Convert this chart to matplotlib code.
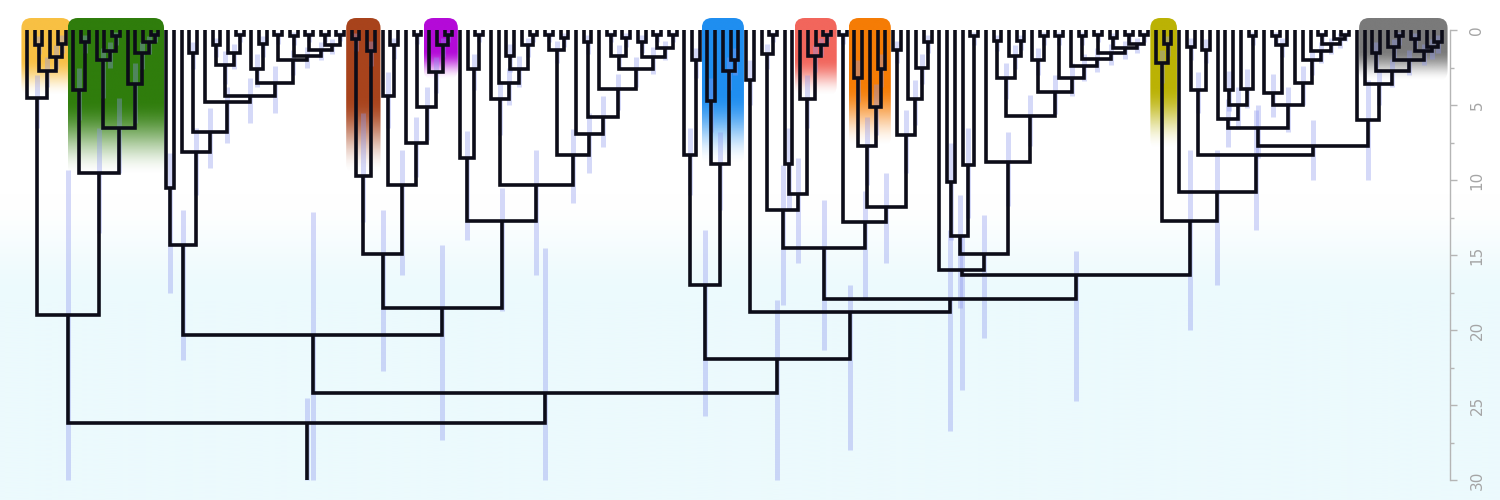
import re
import numpy as np
import matplotlib
matplotlib.use('Agg')
import matplotlib.pyplot as plt
from matplotlib.patches import FancyBboxPatch
from matplotlib.collections import LineCollection
from matplotlib.ticker import MultipleLocator

# ---------------- data: tree topology, node heights and node-height bars ----------------
# syntax: leaf = t ; internal = (left,right)height[bar_low,bar_high]{optional clade tag}
Y_CLADE = "(t,((t,t)1.0[0.4,1.6],(t,(t,t)0.9[0.3,1.5])1.8[1.0,2.6])2.7[1.8,3.8])4.5[3.0,6.5]{yellow}"
G_CLADE = ("((t,(t,t)0.8[0.3,1.5])4.0[2.5,6.0],((t,(t,(t,t)0.4[0.1,1.0])1.4[0.8,2.5])2.0[1.2,4.5],"
           "(t,(t,(t,(t,t)0.3[0.1,0.8])0.8[0.4,1.6])1.5[0.8,2.6])3.6[2.2,6.2])6.5[4.5,9.5])9.5[6.5,13.5]{green}")
L_NODE = f"({Y_CLADE},{G_CLADE})19.0[9.3,30]"

A1_PAIR = "(t,t)10.5[8.2,17.5]"
A1_N235 = "((t,t)1.0[0.5,1.8],(t,(t,t)0.3[0.1,0.8])1.5[0.9,2.6])2.3[1.4,3.6]"
A1_LADDER = ("((t,(t,t)0.9[0.4,1.8])2.6[1.6,3.8],((t,t)0.3[0.1,0.9],((t,t)0.4[0.1,1.0],((t,t)0.3[0.1,0.8],"
             "((t,t)0.3[0.1,0.8],(t,t)0.3[0.1,0.7])1.0[0.6,1.6])1.3[0.8,2.0])1.7[1.1,2.5])2.0[1.3,3.0])3.5[2.4,5.5]")
A1_N200 = f"(t,((t,t)1.5[0.8,2.6],(t,({A1_N235},{A1_LADDER})4.4[3.2,6.2])4.8[3.8,7.5])6.8[5.2,9.2])8.1[6.5,11.0]"
A1_NODE = f"({A1_PAIR},{A1_N200})14.3[12.0,22.0]"

BROWN = "((t,t)0.6[0.2,1.4],(t,t)1.4[0.7,2.4])9.7[5.5,12.8]{brown}"
PURPLE = "(t,(t,(t,t)0.3[0.1,0.8])1.0[0.5,1.8])2.8[1.8,4.2]{purple}"
A2_N402 = f"((t,(t,t)1.0[0.5,1.9])4.4[2.8,6.5],(t,((t,t)0.3[0.1,0.9],{PURPLE})5.1[3.8,7.3])7.5[5.8,9.8])10.3[8.0,16.3]"
A2_N463 = "(t,(t,(t,t)0.3[0.1,0.8])2.6[1.6,4.0])8.5[6.7,14.0]"
A2_N497B = "(t,(t,((t,t)1.7[0.9,2.8],(t,(t,t)0.3[0.1,0.8])1.0[0.5,1.8])2.6[1.7,3.8])3.5[2.5,5.0])4.6[3.4,7.0]"
A2_N540 = "((t,t)0.3[0.1,0.8],(t,t)0.5[0.2,1.1])1.3[0.7,2.2]"
A2_N578 = ("(t,((t,t)0.8[0.3,1.6],(t,(((t,t)0.3[0.1,0.8],(t,t)0.5[0.2,1.1])1.7[1.0,2.6],((t,t)0.8[0.3,1.5],"
           "((t,t)0.3[0.1,0.8],(t,t)0.3[0.1,0.8])1.2[0.7,2.0])1.8[1.1,2.9])2.6[1.8,3.8])3.9[2.9,5.3])5.8[4.4,7.8])6.9[5.5,9.5]")
A2_NODE = (f"(({BROWN},{A2_N402})14.9[12.0,22.7],({A2_N463},({A2_N497B},({A2_N540},{A2_N578})8.3[6.6,11.5])"
           f"10.3[8.0,16.3])12.7[10.5,18.7])18.5[14.3,27.3]")
A_NODE = f"({A1_NODE},{A2_NODE})20.3[12.1,30]"

B_N690 = "(t,(t,t)2.0[1.2,3.2])8.3[6.5,11.0]"
BLUE = "((t,t)4.7[3.2,6.8],(t,(t,t)2.0[1.2,3.0])2.7[1.8,4.0])8.9[6.8,12.0]{blue}"
RED = "(t,(t,(t,(t,t)0.3[0.1,0.8])1.0[0.5,1.7])1.7[1.0,2.8])4.6[3.0,6.5]{red}"
ORANGE = "((t,t)3.2[2.0,4.8],(t,(t,t)2.6[1.6,3.8])5.1[3.6,7.0])7.7[5.8,10.3]{orange}"
B_N782 = f"((t,(t,t)0.3[0.1,0.8])1.6[0.9,2.6],((t,t)8.9[6.5,12.0],{RED})10.9[8.5,15.5])12.0[9.0,18.3]"
B_N902 = "((t,t)1.3[0.7,2.2],(t,(t,(t,t)0.8[0.3,1.5])2.5[1.6,3.6])4.6[3.3,6.3])7.0[5.3,9.5]"
B_N862 = f"((t,t)0.3[0.1,0.9],({ORANGE},{B_N902})11.8[9.5,15.5])12.8[10.7,18.0]"
B_N822 = f"({B_N782},{B_N862})14.5[11.3,21.3]"
B_N958B = "((t,t)10.1[7.5,14.0],(t,(t,t)0.4[0.1,1.0])9.0[6.5,12.5])13.7[11.0,18.5]"
B_N1007 = "((t,t)0.7[0.3,1.4],(t,(t,t)0.7[0.3,1.3])1.7[1.0,2.6])3.2[2.2,4.6]"
B_LADDER = ("((t,t)0.4[0.1,1.0],((t,t)0.3[0.1,0.8],((t,t)0.5[0.2,1.1],((t,t)0.3[0.1,0.8],(t,t)0.3[0.1,0.8])"
            "0.9[0.5,1.5])1.2[0.7,1.9])1.5[0.9,2.3])1.9[1.2,2.8]")
B_N1055 = f"((t,(t,t)0.4[0.1,1.0])2.0[1.2,3.0],((t,t)0.4[0.1,1.0],(t,{B_LADDER})2.4[1.6,3.4])3.2[2.2,4.4])4.1[3.0,5.6]"
B_N958 = f"(t,({B_N958B},(t,({B_N1007},{B_N1055})5.7[4.3,7.7])8.8[6.8,11.7])14.9[12.3,20.5])16.0[13.7,24.0]"
OLIVE = "(t,(t,t)0.9[0.4,1.7])2.2[1.3,3.5]{olive}"
B_N1195 = "((t,t)1.1[0.5,2.0],(t,t)1.3[0.6,2.2])4.0[2.8,5.5]"
B_N1227 = "(t,((t,t)4.0[2.7,5.4],(t,(t,t)0.4[0.1,1.0])3.9[2.6,5.2])5.0[3.8,6.6])5.9[4.6,7.8]"
B_N1280 = ("((t,((t,t)0.4[0.1,1.0],t)1.0[0.5,1.8])4.2[2.9,5.8],(t,(t,(t,((t,t)0.3[0.1,0.8],(t,(t,t)0.3[0.1,0.7])"
           "0.6[0.2,1.2])0.9[0.5,1.6])1.4[0.8,2.2])2.0[1.3,3.0])3.5[2.4,5.0])5.0[3.8,6.8]")
GREY = ("(t,((t,t)1.5[0.8,2.5],((t,(t,t)0.4[0.1,1.0])1.1[0.6,1.9],((t,t)0.6[0.2,1.2],(t,(t,t)0.8[0.3,1.5])"
        "1.1[0.6,1.9])1.4[0.9,2.3])2.0[1.3,3.0])2.7[1.9,3.8])3.6[2.6,5.0]{grey}")
B_N1188 = (f"({OLIVE},(t,({B_N1195},(({B_N1227},{B_N1280})6.5[5.0,8.5],(t,{GREY})6.0[3.3,10.0])7.7[6.0,10.0])"
           f"8.3[5.3,13.3])10.8[8.0,17.0])12.7[8.0,20.0]")
B_NODE = (f"(({B_N690},{BLUE})17.0[13.3,25.7],((t,t)3.3[2.0,5.0],({B_N822},({B_N958},{B_N1188})16.3[14.7,24.7])"
          f"17.9[13.3,26.7])18.8[17.0,28.0])21.9[18.0,30]")
R_NODE = f"({A_NODE},{B_NODE})24.2[14.5,30]"
TREE = f"({L_NODE},{R_NODE})26.2[24.5,30]"
ROOT_STEM_END = 30

CLADE_TAGS = ['yellow', 'green', 'brown', 'purple', 'blue', 'red', 'orange', 'olive', 'grey']
CLADE_COLORS = ['#f8c043', '#2f7d0c', '#a8431c', '#b40ad8', '#1f8ef0', '#f2665c', '#f57c05', '#bbb204', '#7a7a7a']
CLADE_BOTTOMS = [4.4, 9.7, 9.6, 3.3, 9.0, 4.4, 7.8, 8.0, 3.4]

AXIS_TICKS_MAJOR = 5
AXIS_TICKS_MINOR = 2.5
AXIS_RANGE = (0, 30)

# ---------------- parse ----------------
NODE_RE = re.compile(r'\)(?P<h>[0-9.]+)\[(?P<lo>[0-9.]+),(?P<hi>[0-9.]+)\](?:\{(?P<tag>\w+)\})?')


def parse(s, i=0):
    if s[i] == 't':
        return {'leaf': True, 'h': 0.0}, i + 1
    assert s[i] == '(', (s[i:i + 20], i)
    left, i = parse(s, i + 1)
    assert s[i] == ',', (s[i:i + 20], i)
    right, i = parse(s, i + 1)
    m = NODE_RE.match(s, i)
    assert m, s[i:i + 30]
    node = {'leaf': False, 'kids': [left, right], 'h': float(m['h']),
            'lo': float(m['lo']), 'hi': float(m['hi']), 'tag': m['tag']}
    return node, m.end()


root, _ = parse(TREE)
leaves = []


def collect(n):
    if n['leaf']:
        n['idx'] = len(leaves)
        leaves.append(n)
    else:
        for k in n['kids']:
            collect(k)


collect(root)
X_FIRST, X_LAST = 27.0, 1442.0
dx = (X_LAST - X_FIRST) / (len(leaves) - 1)


def setx(n):
    if n['leaf']:
        n['x'] = X_FIRST + n['idx'] * dx
        n['xmin'] = n['xmax'] = n['x']
    else:
        for k in n['kids']:
            setx(k)
        a, b = n['kids']
        n['x'] = (a['x'] + b['x']) / 2
        n['xmin'] = min(a['xmin'], b['xmin'])
        n['xmax'] = max(a['xmax'], b['xmax'])


setx(root)

paths, bars, clades = [], [], {}


def walk(n):
    if n['leaf']:
        return
    a, b = n['kids']
    paths.append([(a['x'], a['h']), (a['x'], n['h']), (b['x'], n['h']), (b['x'], b['h'])])
    bars.append([(n['x'], n['lo']), (n['x'], n['hi'])])
    if n['tag']:
        clades[n['tag']] = (n['xmin'], n['xmax'])
    walk(a)
    walk(b)


walk(root)
paths.append([(root['x'], root['h']), (root['x'], ROOT_STEM_END)])

# ---------------- figure ----------------
fig = plt.figure(figsize=(15, 5), dpi=100)
ax = fig.add_axes([0, 0, 1, 1])
YTOP, YBOT = -2.0, 31.3333
XMAX = 1500

# background gradient
hs = np.linspace(YTOP, YBOT, 800)
t = np.clip((hs - 11.0) / 7.0, 0, 1)
t = t * t * (3 - 2 * t)
top = np.array([1.0, 1.0, 1.0])
bot = np.array([236, 250, 253]) / 255.0
bg = (1 - t)[:, None] * top + t[:, None] * bot
ax.imshow(bg[:, None, :], extent=(0, XMAX, YBOT, YTOP), origin='upper', aspect='auto',
          zorder=0, interpolation='bilinear')

# clade highlights
pad = 0.72 * dx
for tag, col, bottom in zip(CLADE_TAGS, CLADE_COLORS, CLADE_BOTTOMS):
    x0, x1 = clades[tag]
    x0 -= pad
    x1 += pad
    y0 = -0.8
    patch = FancyBboxPatch((x0, y0), x1 - x0, bottom - y0,
                           boxstyle='round,pad=0,rounding_size=10', mutation_aspect=1 / 15,
                           facecolor='none', edgecolor='none', zorder=1)
    ax.add_patch(patch)
    u = np.linspace(0, 1, 200)
    f = np.clip((u - 0.52) / 0.48, 0, 1)
    alpha = 1 - f * f * (3 - 2 * f)
    rgba = np.zeros((200, 1, 4))
    rgba[:, 0, :3] = matplotlib.colors.to_rgb(col)
    rgba[:, 0, 3] = alpha
    im = ax.imshow(rgba, extent=(x0, x1, bottom, y0), origin='upper', aspect='auto',
                   zorder=1, interpolation='bilinear')
    im.set_clip_path(patch)

# node-height bars
ax.add_collection(LineCollection(bars, colors='#8c96ee', alpha=0.36, linewidths=3.6,
                                 capstyle='butt', zorder=2))
# tree
ax.add_collection(LineCollection(paths, colors='#0c0c18', linewidths=2.6,
                                 joinstyle='miter', capstyle='butt', zorder=3))

ax.set_xlim(0, XMAX)
ax.set_ylim(YBOT, YTOP)

for sp in ['top', 'bottom', 'left']:
    ax.spines[sp].set_visible(False)
ax.spines['right'].set_position(('data', 1450))
ax.spines['right'].set_bounds(*AXIS_RANGE)
ax.spines['right'].set_color('#b5b5b5')
ax.spines['right'].set_linewidth(1.0)
ax.set_xticks([])
ax.yaxis.set_ticks_position('right')
ax.yaxis.set_major_locator(MultipleLocator(AXIS_TICKS_MAJOR))
ax.yaxis.set_minor_locator(MultipleLocator(AXIS_TICKS_MINOR))
ax.tick_params(axis='y', which='major', direction='out', length=5, width=1, color='#b5b5b5',
               labelcolor='#a5a5a5', labelsize=11, pad=9, labelrotation=90)
ax.tick_params(axis='y', which='minor', direction='out', length=3, width=1, color='#b5b5b5')
for lab in ax.get_yticklabels():
    lab.set_va('center')

fig.savefig('out.png', dpi=100)
